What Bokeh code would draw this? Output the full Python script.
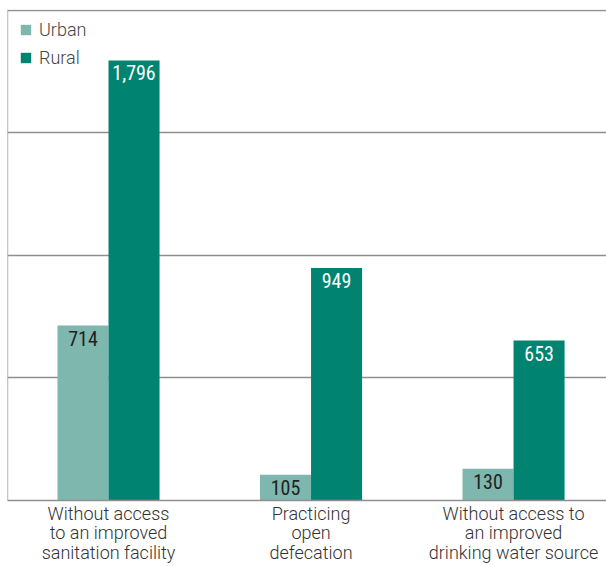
from bokeh.plotting import figure
from bokeh.models import Range1d, FixedTicker, Span, ColumnDataSource, Legend, LegendItem
from bokeh.core.properties import value
from bokeh.embed import file_html
from bokeh.resources import INLINE

categories = ["Without access\nto an improved\nsanitation facility",
              "Practicing\nopen\ndefecation",
              "Without access to\nan improved\ndrinking water source"]
urban = [714, 105, 130]
rural = [1796, 949, 653]
series_names = ["Urban", "Rural"]
grid_ticks = [500, 1000, 1500, 2000]

URBAN_C = "#7db7ad"
RURAL_C = "#008471"
TXT_FONT = "Roboto Light"
NUM_FONT = "Roboto Condensed"

xs = list(range(len(categories)))
bw = 0.252
x0 = -0.4988
src_u = ColumnDataSource(dict(x=[i - bw / 2 for i in xs], top=urban,
                              lbl=[f"{v:,}" for v in urban]))
src_r = ColumnDataSource(dict(x=[i + bw / 2 for i in xs], top=rural,
                              lbl=[f"{v:,}" for v in rural]))

p = figure(width=606, height=566, output_backend="svg", toolbar_location=None,
           x_range=Range1d(x0, 2.459), y_range=Range1d(0, 2004),
           min_border_left=7, min_border_right=0, min_border_top=9, min_border_bottom=66)
p.outline_line_color = None
p.background_fill_color = "white"

ru = p.vbar(x="x", top="top", width=bw, bottom=0, source=src_u,
            fill_color=URBAN_C, line_color=None)
rr = p.vbar(x="x", top="top", width=bw, bottom=0, source=src_r,
            fill_color=RURAL_C, line_color=None)

p.text(x="x", y="top", text="lbl", source=src_u, text_align="center", text_baseline="top",
       y_offset=5, text_font=value(NUM_FONT), text_font_size="20px", text_color="#222222")
p.text(x="x", y="top", text="lbl", source=src_r, text_align="center", text_baseline="top",
       y_offset=5, text_font=value(NUM_FONT), text_font_size="20px", text_color="white")

p.yaxis.visible = False
p.xgrid.visible = False
p.ygrid.ticker = FixedTicker(ticks=grid_ticks)
p.ygrid.grid_line_color = "#8f8f8f"
p.ygrid.grid_line_width = 1.3

ax = p.xaxis[0]
ax.ticker = FixedTicker(ticks=xs)
ax.major_label_overrides = {i: c for i, c in zip(xs, categories)}
ax.major_tick_line_color = None
ax.minor_tick_line_color = None
ax.major_tick_out = 0
ax.major_tick_in = 0
ax.axis_line_color = "#8f8f8f"
ax.axis_line_width = 1.3
ax.major_label_standoff = 2
ax.major_label_text_font = TXT_FONT
ax.major_label_text_font_size = "18px"
ax.major_label_text_color = "#333333"
ax.major_label_text_line_height = 0.93

p.add_layout(Span(location=x0, dimension="height", line_color="#8f8f8f", line_width=1.3))

legend = Legend(items=[LegendItem(label=series_names[0], renderers=[ru]),
                       LegendItem(label=series_names[1], renderers=[rr])],
                location=(12, 432), margin=0, padding=0,
                glyph_width=13, glyph_height=13, label_standoff=7,
                label_text_font=TXT_FONT, label_text_font_size="18px",
                label_text_color="#444444", label_height=20, spacing=7,
                background_fill_alpha=0, border_line_color=None)
p.add_layout(legend)

open("out.html", "w").write(file_html(p, INLINE))
